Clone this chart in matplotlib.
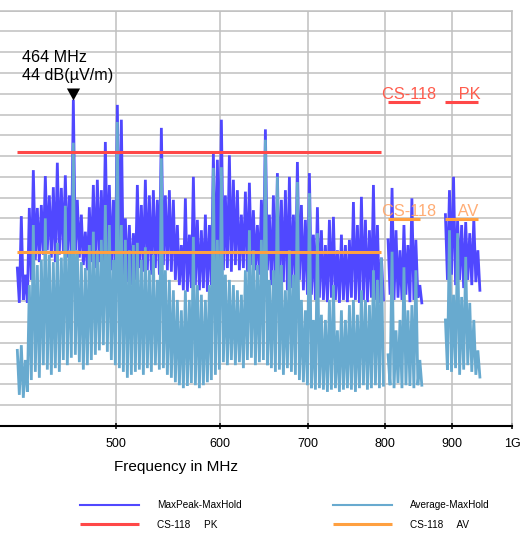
import numpy as np
import matplotlib
matplotlib.use("Agg")  # off-screen
import matplotlib.pyplot as plt
from matplotlib.ticker import NullLocator

plt.rcParams["font.family"] = ["Liberation Sans", "DejaVu Sans"]

# -----------------------------------------------------------------------------#
# Data (levels in dB(µV/m))                           #
# -----------------------------------------------------------------------------#
# sweep segments: start MHz, stop MHz, number of trace columns
BANDS = [(420.7, 795.7, 92), (805.0, 851.0, 9), (890.0, 942.0, 9)]

# MaxPeak-MaxHold: column maxima / minima
PEAK_HI = [
    21.3, 28.3, 20.4, 29.4, 34.5, 29.4, 29.8, 33.7, 31.1, 32.2, 35.5, 32.1,
    33.8, 31.1, 44.0, 30.5, 28.5, 26.2, 29.5, 32.5, 33.2, 31.8, 38.3, 32.5,
    30.5, 43.3, 41.3, 28.0, 27.1, 26.0, 32.5, 29.8, 33.2, 31.1, 31.8, 30.5,
    40.2, 31.1, 31.8, 30.5, 27.1, 24.4, 30.7, 25.8, 33.6, 27.8, 26.4, 28.5,
    27.1, 36.8, 35.9, 41.3, 31.1, 36.5, 33.2, 31.8, 28.5, 31.6, 32.8, 29.1,
    27.1, 30.5, 40.0, 28.5, 31.1, 34.1, 30.5, 31.8, 33.6, 28.5, 35.6, 29.8,
    27.8, 34.1, 25.8, 29.5, 26.4, 24.4, 27.8, 28.2, 23.7, 25.8, 24.4, 25.1,
    30.2, 27.1, 30.9, 27.8, 26.4, 32.5, 27.1, 22.7,
    25.1, 32.1, 26.4, 23.7, 27.1, 24.4, 30.7, 25.1, 19.0,
    28.5, 31.8, 33.6, 27.8, 27.1, 27.5, 26.0, 28.0, 23.7,
]
PEAK_LO = [
    16.6, 17.0, 16.6, 19.7, 22.4, 22.1, 23.1, 23.7, 22.7, 22.1, 23.1, 23.5,
    22.7, 22.1, 23.7, 22.7, 21.7, 21.0, 22.1, 21.3, 22.1, 21.7, 22.7, 21.0,
    20.4, 21.0, 19.7, 19.4, 19.0, 19.7, 21.3, 20.8, 21.0, 20.4, 21.3, 20.4,
    21.7, 21.0, 20.8, 19.7, 19.0, 18.3, 18.1, 18.6, 19.0, 18.3, 18.6, 18.1,
    19.0, 19.7, 20.4, 21.0, 21.3, 20.8, 21.7, 21.0, 21.3, 20.8, 21.7, 21.0,
    20.4, 21.0, 21.0, 19.0, 18.6, 19.0, 19.4, 18.3, 18.6, 19.0, 19.7, 18.3,
    17.7, 17.7, 17.0, 17.3, 17.0, 16.7, 17.3, 17.0, 16.6, 17.0, 16.7, 17.3,
    17.0, 16.6, 17.0, 16.7, 17.3, 17.0, 16.6, 17.0,
    17.7, 17.0, 17.3, 17.0, 17.7, 16.7, 17.0, 17.3, 16.6,
    19.7, 20.4, 19.0, 19.7, 18.6, 19.7, 19.0, 19.4, 18.3,
]

# Average-MaxHold: column maxima / minima
AVG_HI = [
    10.2, 10.9, 8.9, 19.0, 27.1, 21.7, 22.4, 28.0, 23.1, 22.1, 24.7, 22.7,
    29.7, 23.7, 38.2, 23.7, 22.1, 21.3, 24.4, 26.2, 23.7, 25.1, 29.8, 27.1,
    22.4, 41.0, 27.1, 25.1, 23.7, 24.4, 24.7, 22.4, 24.1, 21.0, 23.1, 19.7,
    36.1, 21.0, 19.7, 18.3, 17.0, 15.6, 18.3, 17.0, 25.5, 19.0, 17.7, 17.0,
    19.0, 34.8, 25.1, 34.9, 20.4, 19.7, 19.0, 18.3, 17.7, 21.0, 26.4, 23.7,
    21.7, 25.1, 38.6, 19.7, 21.0, 33.6, 21.7, 18.3, 23.7, 20.4, 32.9, 17.0,
    15.6, 31.4, 14.3, 26.0, 15.0, 14.3, 17.0, 19.0, 12.9, 15.6, 14.3, 16.3,
    17.0, 15.0, 18.3, 17.0, 16.3, 21.0, 19.7, 22.7,
    9.6, 23.5, 12.9, 14.3, 21.4, 15.6, 16.3, 21.0, 8.9,
    14.3, 26.4, 17.7, 26.0, 17.4, 22.8, 16.6, 14.3, 10.2,
]
AVG_LO = [
    4.2, 3.8, 4.6, 6.2, 7.3, 6.5, 8.2, 7.6, 6.9, 7.8, 7.3, 8.9,
    8.2, 9.2, 9.6, 8.6, 7.6, 8.2, 8.9, 9.6, 10.2, 10.9, 10.0, 8.9,
    8.2, 7.8, 7.3, 6.5, 6.9, 7.3, 7.6, 6.9, 7.8, 7.3, 8.2, 7.6,
    7.8, 6.9, 6.5, 5.9, 5.5, 5.1, 5.4, 5.8, 5.5, 5.1, 5.5, 5.9,
    6.2, 6.9, 7.6, 8.6, 8.2, 8.9, 8.2, 8.6, 7.8, 8.9, 9.2, 8.2,
    8.6, 8.9, 8.2, 7.8, 7.3, 7.6, 6.9, 7.8, 7.3, 6.9, 6.2, 5.9,
    5.5, 5.1, 4.9, 5.1, 4.9, 4.6, 4.9, 5.1, 4.6, 4.9, 5.1, 4.9,
    4.6, 5.1, 5.5, 4.9, 5.1, 5.5, 5.1, 5.5,
    5.5, 5.1, 5.8, 5.1, 5.5, 5.4, 5.1, 5.5, 5.5,
    7.6, 7.3, 7.8, 6.9, 7.6, 8.2, 7.3, 6.9, 6.6,
]

# CS-118 limit per sweep segment
LIMIT_PK = [36.9, 43.7, 43.7]
LIMIT_AV = [23.4, 27.9, 27.9]

MARKER_F = 464      # MHz
MARKER_LEVEL = 44   # dB(µV/m)

X_TICKS = [500, 600, 700, 800, 900, 1000]
X_TICK_LABELS = ["500", "600", "700", "800", "900", "1G"]

PEAK_COLOR = "#5048ff"
AVG_COLOR = "#68aacf"
PK_COLOR = "#ff4848"
AV_COLOR = "#ffa040"
GRID_COLOR = "#c0c0c0"


def zigzag(f0, f1, hi, lo):
    """One trace column = max sample followed by min sample."""
    f = np.geomspace(f0, f1, len(hi))
    half = (f1 / f0) ** (0.5 / (len(hi) - 1))
    x = np.column_stack([f, f * half]).ravel()
    y = np.column_stack([hi, lo]).ravel()
    return x, y


fig = plt.figure(figsize=(5.32, 5.47), dpi=100)
ax = fig.add_axes([-11.5 / 532, 121 / 547, 523.5 / 532, 415.3 / 547])

trace_kw = dict(lw=2.0, solid_joinstyle="bevel")
handles = {}
start = 0
for (f0, f1, n), pk, av in zip(BANDS, LIMIT_PK, LIMIT_AV):
    sl = slice(start, start + n)
    start += n
    x, y = zigzag(f0, f1, PEAK_HI[sl], PEAK_LO[sl])
    handles["peak"], = ax.plot(x, y, color=PEAK_COLOR, zorder=2, **trace_kw)
    x, y = zigzag(f0, f1, AVG_HI[sl], AVG_LO[sl])
    handles["avg"], = ax.plot(x, y, color=AVG_COLOR, zorder=3, **trace_kw)
    handles["lpk"], = ax.plot([f0, f1], [pk, pk], color=PK_COLOR, lw=2.2,
                              solid_capstyle="butt", zorder=4)
    handles["lav"], = ax.plot([f0, f1], [av, av], color=AV_COLOR, lw=2.2,
                              solid_capstyle="butt", zorder=4)

# limit names sit on the upper limit segments
ax.text(797, LIMIT_PK[1], "CS-118     PK", color="#ff5c4d", fontsize=11.8,
        va="bottom", ha="left", zorder=5)
ax.text(797, LIMIT_AV[1], "CS-118     AV", color="#ffa466", fontsize=11.8,
        va="bottom", ha="left", alpha=0.9, zorder=5)

# peak marker
ax.plot([MARKER_F], [MARKER_LEVEL], ls="none", color="black", mew=0,
        marker=[(-0.55, 1), (0.55, 1), (0, 0)], ms=17.3, zorder=6)
ax.text(424, 49.1, f"{MARKER_F} MHz", fontsize=11.6, va="baseline")
ax.text(424, 46.7, f"{MARKER_LEVEL} dB(µV/m)", fontsize=11.6, va="baseline")

ax.set_xscale("log")
ax.set_xlim(400, 1000)
ax.set_ylim(0, 56)
ax.set_xticks(X_TICKS)
ax.set_xticklabels(X_TICK_LABELS)
ax.xaxis.set_minor_locator(NullLocator())
ax.set_yticks(np.linspace(0, 56, 21))
ax.tick_params(axis="y", length=0, labelleft=False)
ax.tick_params(axis="x", direction="inout", length=5, width=1.1,
               labelsize=9, pad=6)
ax.grid(True, color=GRID_COLOR, lw=1.1, zorder=0)
ax.set_axisbelow(True)

ax.spines["left"].set_visible(False)
for side in ("top", "right"):
    ax.spines[side].set_color(GRID_COLOR)
    ax.spines[side].set_linewidth(1.1)
ax.spines["bottom"].set_linewidth(1.5)

fig.text(176 / 532, 1 - 467 / 547, "Frequency in MHz", fontsize=11,
         ha="center", va="center")

fig.legend(
    [handles["peak"], handles["lpk"], handles["avg"], handles["lav"]],
    ["MaxPeak-MaxHold", "CS-118     PK", "Average-MaxHold", "CS-118     AV"],
    loc="upper left", bbox_to_anchor=(80 / 532, 1 - 500 / 547), ncol=2,
    frameon=False, fontsize=7.2, handlelength=5.9, handletextpad=1.8,
    columnspacing=9.1, labelspacing=0.95, borderpad=0, borderaxespad=0,
)
for line in fig.legends[0].get_lines()[::2]:
    line.set_linewidth(1.5)

fig.savefig("out.png", dpi=100)
